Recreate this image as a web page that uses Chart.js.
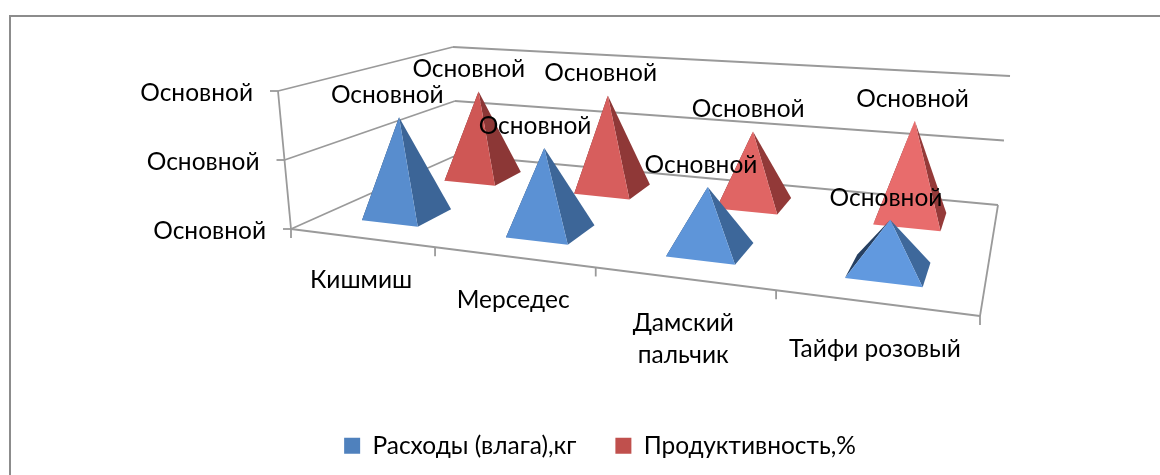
<!DOCTYPE html>
<html>
<head>
<meta charset="utf-8">
<script src="https://cdn.jsdelivr.net/npm/chart.js@4"></script>
<style>
  html, body { margin: 0; padding: 0; background: #fff; overflow: hidden; }
  #wrap { position: relative; width: 1160px; height: 475px; overflow: hidden; }
  #frame { position: absolute; left: 9px; top: 15px; width: 1200px; height: 500px; border: 2px solid #8c8c8c; }
</style>
</head>
<body>
<div id="wrap">
  <div id="frame"></div>
  <canvas id="myChart" width="1160" height="475" style="position:relative"></canvas>
</div>
<script>
var categories = ['Кишмиш', 'Мерседес', ['Дамский', 'пальчик'], 'Тайфи розовый'];
var expenses = [1.47, 1.2, 0.86, 0.66];
var yields = [1.45, 1.53, 1.12, 1.46];
var seriesNames = ['Расходы (влага),кг', 'Продуктивность,%'];
var yTicks = [0, 1, 2];
var axisText = 'Основной';

var FONT = 'Lato';

// floor and top planes of the box: front-left, front-right, back-right, back-left
var floorQuad = [[291, 229], [980, 316], [998, 205], [457, 155]];
var topQuad = [[278, 91], [995, 147], [1010, 76], [453, 47]];

// square -> quad perspective map
function makeMap(q) {
  var dx1 = q[1][0] - q[2][0], dx2 = q[3][0] - q[2][0], sx = q[0][0] - q[1][0] + q[2][0] - q[3][0];
  var dy1 = q[1][1] - q[2][1], dy2 = q[3][1] - q[2][1], sy = q[0][1] - q[1][1] + q[2][1] - q[3][1];
  var den = dx1 * dy2 - dx2 * dy1;
  var g = (sx * dy2 - dx2 * sy) / den;
  var h = (dx1 * sy - sx * dy1) / den;
  var a = q[1][0] - q[0][0] + g * q[1][0], b = q[3][0] - q[0][0] + h * q[3][0], c = q[0][0];
  var d = q[1][1] - q[0][1] + g * q[1][1], e = q[3][1] - q[0][1] + h * q[3][1], f = q[0][1];
  return function(u, v) {
    var w = g * u + h * v + 1;
    return [(a * u + b * v + c) / w, (d * u + e * v + f) / w];
  };
}
var floorMap = makeMap(floorQuad);
var topMap = makeMap(topQuad);

function project(u, d, h) {
  var p0 = floorMap(u, d);
  var p1 = topMap(u, d);
  return [p0[0] + (p1[0] - p0[0]) * h, p0[1] + (p1[1] - p0[1]) * h];
}

function seg(ctx, a, b) {
  ctx.beginPath();
  ctx.moveTo(a[0], a[1]);
  ctx.lineTo(b[0], b[1]);
  ctx.stroke();
}

function tri(ctx, a, b, c, color) {
  ctx.fillStyle = color;
  ctx.beginPath();
  ctx.moveTo(a[0], a[1]);
  ctx.lineTo(b[0], b[1]);
  ctx.lineTo(c[0], c[1]);
  ctx.closePath();
  ctx.fill();
}

function mix(c1, c2, t) {
  return 'rgb(' + c1.map(function(v, i) { return Math.round(v + (c2[i] - v) * t); }).join(',') + ')';
}

// front colour shifts lighter towards the right of the floor
var faceColors = [
  { front: [[86, 139, 203], [99, 155, 226]], side: [[60, 100, 150], [62, 104, 156]], back: [38, 64, 98] },
  { front: [[203, 83, 81], [236, 112, 112]], side: [[138, 54, 53], [150, 58, 58]], back: [110, 44, 44] }
];

var box3d = {
  id: 'box3d',
  // bars keep their geometry but the pyramids below replace them
  beforeDatasetDraw: function() { return false; },
  beforeDatasetsDraw: function(chart) {
    var ctx = chart.ctx;
    var xs = chart.scales.x, ys = chart.scales.y;
    var span = ys.getPixelForValue(0) - ys.getPixelForValue(ys.max);
    var vh = function(v) { return (ys.getPixelForValue(0) - ys.getPixelForValue(v)) / span; };
    var border = function(k) { return (xs.getPixelForValue(k - 0.5) - xs.left) / xs.width; };
    ctx.save();
    ctx.strokeStyle = '#9a9a9a';
    ctx.lineWidth = 1.8;
    ctx.fillStyle = '#000';
    ctx.font = '24.5px ' + FONT;
    ctx.textBaseline = 'middle';

    yTicks.forEach(function(t) {
      var h = vh(t);
      var a = project(0, 0, h), b = project(0, 1, h), c = project(1, 1, h);
      seg(ctx, a, b);
      seg(ctx, b, c);
      seg(ctx, [a[0] - 8, a[1]], a);
      ctx.textAlign = 'right';
      ctx.fillText(axisText, a[0] - 25, a[1] + 2.5);
    });
    seg(ctx, project(0, 0, 0), project(0, 0, 1));
    seg(ctx, project(0, 0, 0), project(1, 0, 0));
    seg(ctx, project(1, 0, 0), project(1, 1, 0));

    for (var k = 0; k <= categories.length; k++) {
      var p = project(border(k), 0, 0);
      seg(ctx, p, [p[0], p[1] + 9]);
    }

    ctx.textAlign = 'center';
    categories.forEach(function(label, i) {
      var u = (xs.getPixelForValue(i) - xs.left) / xs.width;
      var p = project(u, 0, 0);
      [].concat(label).forEach(function(s, n) {
        ctx.fillText(s, p[0], p[1] + 41 + 6 * u + n * 32);
      });
    });

    // back series first so the front row sits over it
    for (var ds = chart.data.datasets.length - 1; ds >= 0; ds--) {
      var d = (ds + 0.5) / chart.data.datasets.length;
      chart.getDatasetMeta(ds).data.forEach(function(bar) {
        var u = (bar.x - xs.left) / xs.width;
        var h = (bar.base - bar.y) / span;
        var hu = 0.05, hd = 0.1;
        var fl = project(u - hu, d - hd, 0);
        var fr = project(u + hu, d - hd, 0);
        var br = project(u + hu, d + hd, 0);
        var bl = project(u - hu, d + hd, 0);
        var apex = project(u, d, h);
        var cols = faceColors[ds];
        tri(ctx, fl, bl, apex, mix(cols.back, cols.back, 0));
        tri(ctx, fr, br, apex, mix(cols.side[0], cols.side[1], u));
        tri(ctx, fl, fr, apex, mix(cols.front[0], cols.front[1], u));
      });
    }

    // value labels stay on top of every pyramid
    ctx.fillStyle = '#000';
    chart.data.datasets.forEach(function(set, ds) {
      var d = (ds + 0.5) / chart.data.datasets.length;
      chart.getDatasetMeta(ds).data.forEach(function(bar) {
        var u = (bar.x - xs.left) / xs.width;
        var a = project(u, d, (bar.base - bar.y) / span);
        ctx.fillText(axisText, a[0] - 13 + 2 * ds + 10 * u, a[1] - 22);
      });
    });
    ctx.restore();
  }
};

var chart = new Chart(document.getElementById('myChart').getContext('2d'), {
  type: 'bar',
  data: {
    labels: categories,
    datasets: [
      { label: seriesNames[0], data: expenses, backgroundColor: '#4f81bd', borderWidth: 0 },
      { label: seriesNames[1], data: yields, backgroundColor: '#c0504d', borderWidth: 0 }
    ]
  },
  options: {
    responsive: false,
    animation: false,
    layout: { padding: { bottom: 7, left: 40 } },
    plugins: {
      tooltip: { enabled: false },
      legend: {
        position: 'bottom',
        labels: {
          color: '#000',
          boxWidth: 16,
          boxHeight: 16,
          padding: 39,
          font: { family: FONT, size: 24.5 }
        }
      }
    },
    scales: {
      x: { display: false, stacked: true },
      y: { display: false, min: 0, max: 2, ticks: { stepSize: 1 } }
    }
  },
  plugins: [box3d]
});
</script>
</body>
</html>
